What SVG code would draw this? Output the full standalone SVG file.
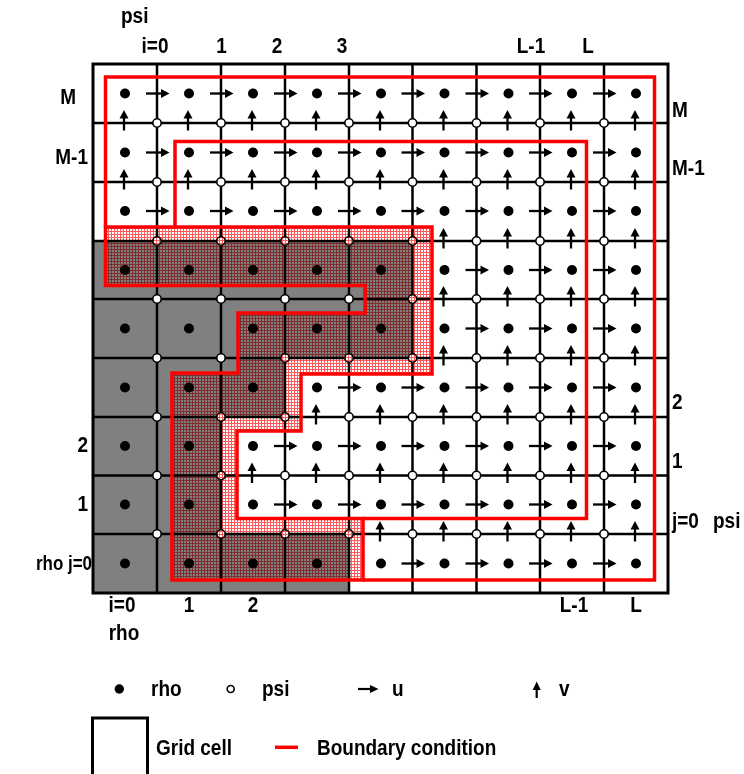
<svg xmlns="http://www.w3.org/2000/svg" width="744" height="774" viewBox="0 0 744 774">
<style>
.t{font-family:"Liberation Sans",Arial,Helvetica,sans-serif;font-weight:bold;font-size:19px;fill:#000}
.s{font-size:17px}
.m{text-anchor:middle}
.e{text-anchor:end}
.grid{stroke:#000;stroke-width:2.5;fill:none}
.rho circle{fill:#000}
.psi circle{fill:#fff;stroke:#000;stroke-width:1.6}
.bc{fill:none;stroke:#f00;stroke-width:3.5;stroke-linejoin:miter}
.hatch{mix-blend-mode:multiply}
</style>
<defs>
<pattern id="hatch" width="3" height="3" patternUnits="userSpaceOnUse">
<path d="M0,0.5H3M0.5,0V3" stroke="#f00" stroke-width="1" opacity="0.65"/>
</pattern>
<g id="u"><path d="M-11,0H6" stroke="#000" stroke-width="2.3"/><polygon points="4,-4.5 12.5,0 4,4.5" fill="#000"/></g>
<g id="v"><path d="M-1,7.5V-6" stroke="#000" stroke-width="2.3"/><polygon points="-5.5,-4.5 -1,-13 3.5,-4.5" fill="#000"/></g>
</defs>
<rect width="744" height="774" fill="#fff"/>

<g id="land">
<polygon points="93,241 412.5,241 412.5,358 285,358 285,417 221,417 221,534 349,534 349,593 93,593" fill="#808080"/>
</g>

<g id="gridlines" class="grid">
<path d="M157,64V593M221,64V593M285,64V593M349,64V593M412.5,64V593M476.5,64V593M540,64V593M604,64V593"/>
<path d="M93,123H668M93,182H668M93,241H668M93,299H668M93,358H668M93,417H668M93,475.5H668M93,534H668"/>
<rect x="93" y="64" width="575" height="529" stroke-width="3"/>
</g>

<g id="rho-points" class="rho">
<g transform="translate(0,93.5)"><circle cx="125" r="5"/><circle cx="189" r="5"/><circle cx="253" r="5"/><circle cx="317" r="5"/><circle cx="381" r="5"/><circle cx="444.5" r="5"/><circle cx="508.5" r="5"/><circle cx="572" r="5"/><circle cx="636" r="5"/></g>
<g transform="translate(0,152.5)"><circle cx="125" r="5"/><circle cx="189" r="5"/><circle cx="253" r="5"/><circle cx="317" r="5"/><circle cx="381" r="5"/><circle cx="444.5" r="5"/><circle cx="508.5" r="5"/><circle cx="572" r="5"/><circle cx="636" r="5"/></g>
<g transform="translate(0,211)"><circle cx="125" r="5"/><circle cx="189" r="5"/><circle cx="253" r="5"/><circle cx="317" r="5"/><circle cx="381" r="5"/><circle cx="444.5" r="5"/><circle cx="508.5" r="5"/><circle cx="572" r="5"/><circle cx="636" r="5"/></g>
<g transform="translate(0,270)"><circle cx="125" r="5"/><circle cx="189" r="5"/><circle cx="253" r="5"/><circle cx="317" r="5"/><circle cx="381" r="5"/><circle cx="444.5" r="5"/><circle cx="508.5" r="5"/><circle cx="572" r="5"/><circle cx="636" r="5"/></g>
<g transform="translate(0,328.5)"><circle cx="125" r="5"/><circle cx="189" r="5"/><circle cx="253" r="5"/><circle cx="317" r="5"/><circle cx="381" r="5"/><circle cx="444.5" r="5"/><circle cx="508.5" r="5"/><circle cx="572" r="5"/><circle cx="636" r="5"/></g>
<g transform="translate(0,387.5)"><circle cx="125" r="5"/><circle cx="189" r="5"/><circle cx="253" r="5"/><circle cx="317" r="5"/><circle cx="381" r="5"/><circle cx="444.5" r="5"/><circle cx="508.5" r="5"/><circle cx="572" r="5"/><circle cx="636" r="5"/></g>
<g transform="translate(0,446)"><circle cx="125" r="5"/><circle cx="189" r="5"/><circle cx="253" r="5"/><circle cx="317" r="5"/><circle cx="381" r="5"/><circle cx="444.5" r="5"/><circle cx="508.5" r="5"/><circle cx="572" r="5"/><circle cx="636" r="5"/></g>
<g transform="translate(0,504.5)"><circle cx="125" r="5"/><circle cx="189" r="5"/><circle cx="253" r="5"/><circle cx="317" r="5"/><circle cx="381" r="5"/><circle cx="444.5" r="5"/><circle cx="508.5" r="5"/><circle cx="572" r="5"/><circle cx="636" r="5"/></g>
<g transform="translate(0,563.5)"><circle cx="125" r="5"/><circle cx="189" r="5"/><circle cx="253" r="5"/><circle cx="317" r="5"/><circle cx="381" r="5"/><circle cx="444.5" r="5"/><circle cx="508.5" r="5"/><circle cx="572" r="5"/><circle cx="636" r="5"/></g>
</g>

<g id="psi-points" class="psi">
<g transform="translate(0,123)"><circle cx="157" r="4.2"/><circle cx="221" r="4.2"/><circle cx="285" r="4.2"/><circle cx="349" r="4.2"/><circle cx="412.5" r="4.2"/><circle cx="476.5" r="4.2"/><circle cx="540" r="4.2"/><circle cx="604" r="4.2"/></g>
<g transform="translate(0,182)"><circle cx="157" r="4.2"/><circle cx="221" r="4.2"/><circle cx="285" r="4.2"/><circle cx="349" r="4.2"/><circle cx="412.5" r="4.2"/><circle cx="476.5" r="4.2"/><circle cx="540" r="4.2"/><circle cx="604" r="4.2"/></g>
<g transform="translate(0,241)"><circle cx="157" r="4.2"/><circle cx="221" r="4.2"/><circle cx="285" r="4.2"/><circle cx="349" r="4.2"/><circle cx="412.5" r="4.2"/><circle cx="476.5" r="4.2"/><circle cx="540" r="4.2"/><circle cx="604" r="4.2"/></g>
<g transform="translate(0,299)"><circle cx="157" r="4.2"/><circle cx="221" r="4.2"/><circle cx="285" r="4.2"/><circle cx="349" r="4.2"/><circle cx="412.5" r="4.2"/><circle cx="476.5" r="4.2"/><circle cx="540" r="4.2"/><circle cx="604" r="4.2"/></g>
<g transform="translate(0,358)"><circle cx="157" r="4.2"/><circle cx="221" r="4.2"/><circle cx="285" r="4.2"/><circle cx="349" r="4.2"/><circle cx="412.5" r="4.2"/><circle cx="476.5" r="4.2"/><circle cx="540" r="4.2"/><circle cx="604" r="4.2"/></g>
<g transform="translate(0,417)"><circle cx="157" r="4.2"/><circle cx="221" r="4.2"/><circle cx="285" r="4.2"/><circle cx="349" r="4.2"/><circle cx="412.5" r="4.2"/><circle cx="476.5" r="4.2"/><circle cx="540" r="4.2"/><circle cx="604" r="4.2"/></g>
<g transform="translate(0,475.5)"><circle cx="157" r="4.2"/><circle cx="221" r="4.2"/><circle cx="285" r="4.2"/><circle cx="349" r="4.2"/><circle cx="412.5" r="4.2"/><circle cx="476.5" r="4.2"/><circle cx="540" r="4.2"/><circle cx="604" r="4.2"/></g>
<g transform="translate(0,534)"><circle cx="157" r="4.2"/><circle cx="221" r="4.2"/><circle cx="285" r="4.2"/><circle cx="349" r="4.2"/><circle cx="412.5" r="4.2"/><circle cx="476.5" r="4.2"/><circle cx="540" r="4.2"/><circle cx="604" r="4.2"/></g>
</g>

<g id="u-points">
<g transform="translate(0,93.5)"><use href="#u" x="157"/><use href="#u" x="221"/><use href="#u" x="285"/><use href="#u" x="349"/><use href="#u" x="412.5"/><use href="#u" x="476.5"/><use href="#u" x="540"/><use href="#u" x="604"/></g>
<g transform="translate(0,152.5)"><use href="#u" x="157"/><use href="#u" x="221"/><use href="#u" x="285"/><use href="#u" x="349"/><use href="#u" x="412.5"/><use href="#u" x="476.5"/><use href="#u" x="540"/><use href="#u" x="604"/></g>
<g transform="translate(0,211)"><use href="#u" x="157"/><use href="#u" x="221"/><use href="#u" x="285"/><use href="#u" x="349"/><use href="#u" x="412.5"/><use href="#u" x="476.5"/><use href="#u" x="540"/><use href="#u" x="604"/></g>
<g transform="translate(0,270)"><use href="#u" x="476.5"/><use href="#u" x="540"/><use href="#u" x="604"/></g>
<g transform="translate(0,328.5)"><use href="#u" x="476.5"/><use href="#u" x="540"/><use href="#u" x="604"/></g>
<g transform="translate(0,387.5)"><use href="#u" x="349"/><use href="#u" x="412.5"/><use href="#u" x="476.5"/><use href="#u" x="540"/><use href="#u" x="604"/></g>
<g transform="translate(0,446)"><use href="#u" x="285"/><use href="#u" x="349"/><use href="#u" x="412.5"/><use href="#u" x="476.5"/><use href="#u" x="540"/><use href="#u" x="604"/></g>
<g transform="translate(0,504.5)"><use href="#u" x="285"/><use href="#u" x="349"/><use href="#u" x="412.5"/><use href="#u" x="476.5"/><use href="#u" x="540"/><use href="#u" x="604"/></g>
<g transform="translate(0,563.5)"><use href="#u" x="412.5"/><use href="#u" x="476.5"/><use href="#u" x="540"/><use href="#u" x="604"/></g>
</g>

<g id="v-points">
<g transform="translate(0,123)"><use href="#v" x="125"/><use href="#v" x="189"/><use href="#v" x="253"/><use href="#v" x="317"/><use href="#v" x="381"/><use href="#v" x="444.5"/><use href="#v" x="508.5"/><use href="#v" x="572"/><use href="#v" x="636"/></g>
<g transform="translate(0,182)"><use href="#v" x="125"/><use href="#v" x="189"/><use href="#v" x="253"/><use href="#v" x="317"/><use href="#v" x="381"/><use href="#v" x="444.5"/><use href="#v" x="508.5"/><use href="#v" x="572"/><use href="#v" x="636"/></g>
<g transform="translate(0,241)"><use href="#v" x="444.5"/><use href="#v" x="508.5"/><use href="#v" x="572"/><use href="#v" x="636"/></g>
<g transform="translate(0,299)"><use href="#v" x="444.5"/><use href="#v" x="508.5"/><use href="#v" x="572"/><use href="#v" x="636"/></g>
<g transform="translate(0,358)"><use href="#v" x="444.5"/><use href="#v" x="508.5"/><use href="#v" x="572"/><use href="#v" x="636"/></g>
<g transform="translate(0,417)"><use href="#v" x="317"/><use href="#v" x="381"/><use href="#v" x="444.5"/><use href="#v" x="508.5"/><use href="#v" x="572"/><use href="#v" x="636"/></g>
<g transform="translate(0,475.5)"><use href="#v" x="253"/><use href="#v" x="317"/><use href="#v" x="381"/><use href="#v" x="444.5"/><use href="#v" x="508.5"/><use href="#v" x="572"/><use href="#v" x="636"/></g>
<g transform="translate(0,534)"><use href="#v" x="381"/><use href="#v" x="444.5"/><use href="#v" x="508.5"/><use href="#v" x="572"/><use href="#v" x="636"/></g>
</g>

<g id="boundary">
<polygon class="hatch" points="105.5,227 432,227 432,374 301,374 301,431 237,431 237,518.5 363,518.5 363,580 172,580 172,373 238,373 238,313 365,313 365,285.5 105.5,285.5" fill="url(#hatch)"/>
<polygon class="bc" points="105.5,227 432,227 432,374 301,374 301,431 237,431 237,518.5 363,518.5 363,580 172,580 172,373 238,373 238,313 365,313 365,285.5 105.5,285.5"/>
<polyline class="bc" points="105.5,227 105.5,77 654.5,77 654.5,580 363,580"/>
<polyline class="bc" points="175,227 175,141.5 586.5,141.5 586.5,518.5 363,518.5"/>
</g>

<g id="labels">
<text class="t" transform="translate(121,23) scale(1,1.17)">psi</text>
<text class="t m" transform="translate(155,53) scale(1,1.17)">i=0</text>
<text class="t m" transform="translate(221.5,53) scale(1,1.17)">1</text>
<text class="t m" transform="translate(277,53) scale(1,1.17)">2</text>
<text class="t m" transform="translate(342,53) scale(1,1.17)">3</text>
<text class="t m" transform="translate(531,53) scale(1,1.17)">L-1</text>
<text class="t m" transform="translate(588,53) scale(1,1.17)">L</text>
<text class="t e" transform="translate(76,104) scale(1,1.17)">M</text>
<text class="t e" transform="translate(88,164) scale(1,1.17)">M-1</text>
<text class="t e" transform="translate(88,452) scale(1,1.17)">2</text>
<text class="t e" transform="translate(88,511) scale(1,1.17)">1</text>
<text class="t s" transform="translate(36,570) scale(1,1.2)">rho</text>
<text class="t s e" transform="translate(92,570) scale(1,1.2)">j=0</text>
<text class="t" transform="translate(672,117) scale(1,1.17)">M</text>
<text class="t" transform="translate(672,175) scale(1,1.17)">M-1</text>
<text class="t" transform="translate(672,409) scale(1,1.17)">2</text>
<text class="t" transform="translate(672,468) scale(1,1.17)">1</text>
<text class="t" transform="translate(672,528) scale(1,1.17)">j=0</text>
<text class="t" transform="translate(713,528) scale(1,1.17)">psi</text>
<text class="t m" transform="translate(122,612) scale(1,1.17)">i=0</text>
<text class="t m" transform="translate(124,640) scale(1,1.17)">rho</text>
<text class="t m" transform="translate(189,612) scale(1,1.17)">1</text>
<text class="t m" transform="translate(253,612) scale(1,1.17)">2</text>
<text class="t m" transform="translate(574,612) scale(1,1.17)">L-1</text>
<text class="t m" transform="translate(636,612) scale(1,1.17)">L</text>
</g>

<g id="legend">
<circle cx="119.3" cy="689" r="4.7" fill="#000"/>
<text class="t" transform="translate(151,696) scale(1,1.17)">rho</text>
<circle cx="230.7" cy="689" r="3.5" fill="#fff" stroke="#000" stroke-width="1.6"/>
<text class="t" transform="translate(262,696) scale(1,1.17)">psi</text>
<path d="M358,689H372" stroke="#000" stroke-width="2.2"/><polygon points="370,685 378.5,689 370,693" fill="#000"/>
<text class="t" transform="translate(392,696) scale(1,1.17)">u</text>
<path d="M536.7,698V688" stroke="#000" stroke-width="2.2"/><polygon points="532.7,690 536.7,681.5 540.7,690" fill="#000"/>
<text class="t" transform="translate(559,696) scale(1,1.17)">v</text>
<rect x="92.5" y="718" width="55" height="70" fill="none" stroke="#000" stroke-width="3"/>
<text class="t" transform="translate(156,755) scale(1,1.17)">Grid cell</text>
<path d="M275,747.3H298" stroke="#f00" stroke-width="3.5"/>
<text class="t" transform="translate(317,755) scale(1,1.17)">Boundary condition</text>
</g>
</svg>
